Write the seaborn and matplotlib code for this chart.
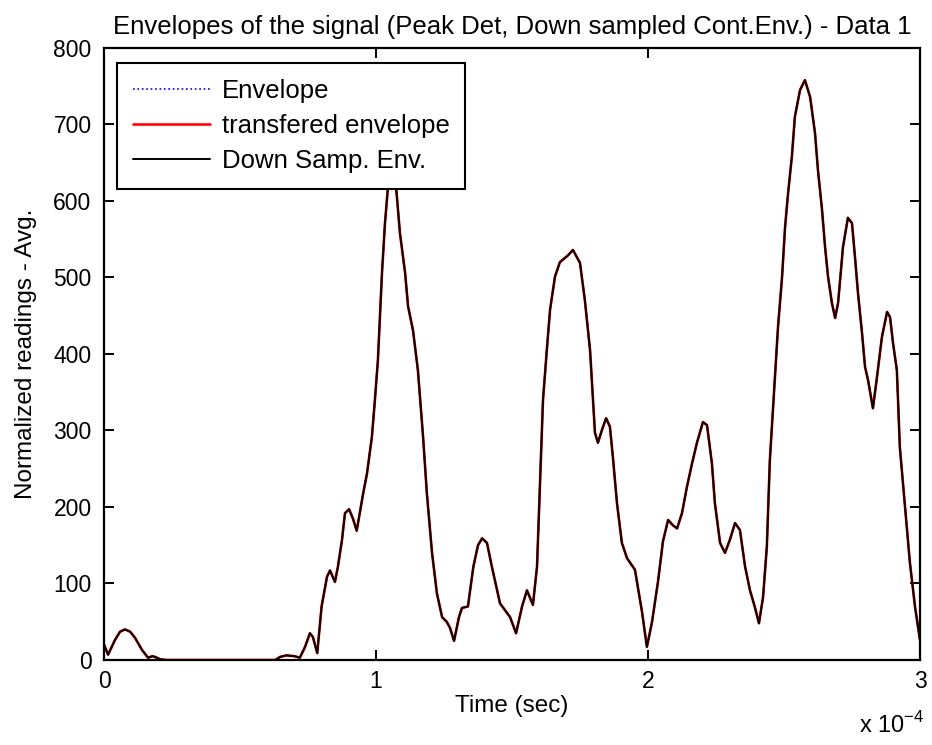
import numpy as np
import pandas as pd
import matplotlib
matplotlib.use("Agg")
import matplotlib.pyplot as plt
import seaborn as sns

# Time axis in units of 1e-4 s
time_e4 = [
    0.0, 0.015, 0.04, 0.059, 0.077, 0.096, 0.114, 0.14, 0.162, 0.178, 0.188, 0.206,
    0.23, 0.40, 0.63, 0.647, 0.67, 0.70, 0.72, 0.739, 0.757, 0.768, 0.784, 0.80,
    0.82, 0.831, 0.849, 0.86, 0.875, 0.886, 0.901, 0.915, 0.929, 0.953, 0.967,
    0.985, 0.996, 1.007, 1.022, 1.033, 1.044, 1.055, 1.066, 1.077, 1.088, 1.107,
    1.118, 1.136, 1.154, 1.173, 1.187, 1.206, 1.224, 1.243, 1.26, 1.272, 1.287,
    1.305, 1.316, 1.338, 1.358, 1.375, 1.39, 1.408, 1.426, 1.456, 1.493, 1.515,
    1.537, 1.555, 1.577, 1.592, 1.603, 1.614, 1.628, 1.64, 1.658, 1.676, 1.706,
    1.724, 1.75, 1.768, 1.787, 1.798, 1.805, 1.816, 1.831, 1.846, 1.86, 1.871,
    1.886, 1.904, 1.923, 1.952, 1.978, 1.996, 2.015, 2.037, 2.055, 2.074, 2.092,
    2.107, 2.125, 2.143, 2.162, 2.18, 2.202, 2.217, 2.235, 2.246, 2.265, 2.283,
    2.301, 2.32, 2.338, 2.357, 2.375, 2.393, 2.408, 2.423, 2.437, 2.448, 2.467,
    2.478, 2.493, 2.504, 2.515, 2.529, 2.54, 2.559, 2.577, 2.596, 2.614, 2.625,
    2.64, 2.651, 2.662, 2.676, 2.688, 2.699, 2.717, 2.735, 2.75, 2.761, 2.772,
    2.787, 2.798, 2.809, 2.827, 2.842, 2.86, 2.879, 2.89, 2.901, 2.915, 2.926,
    2.945, 2.963, 2.982, 2.993, 3.0,
]

# Normalized envelope readings (averaged)
envelope = [
    20, 7, 26, 37, 40, 37, 29, 13, 3, 5, 4, 1,
    0, 0, 0, 4, 6, 5, 3, 17, 35, 30, 9, 70,
    109, 117, 102, 122, 157, 192, 197, 185, 169, 218, 244,
    292, 340, 392, 506, 571, 618, 655, 650, 605, 558, 506,
    462, 431, 379, 292, 218, 140, 87, 56, 50, 42, 25,
    56, 68, 70, 122, 150, 159, 153, 122, 74, 56, 35,
    70, 91, 72, 122, 231, 340, 405, 458, 501, 520, 529,
    536, 519, 470, 405, 340, 297, 284, 301, 316, 305, 265,
    205, 153, 133, 118, 63, 17, 50, 103, 155, 183, 176,
    172, 192, 226, 257, 284, 311, 307, 257, 205, 153, 140,
    157, 179, 170, 122, 91, 69, 48, 82, 148, 261, 370,
    435, 501, 566, 610, 658, 710, 745, 758, 736, 689, 640,
    588, 540, 501, 467, 447, 467, 540, 578, 571, 527, 480,
    427, 383, 366, 329, 370, 422, 455, 448, 414, 379, 278,
    200, 127, 69, 43, 26,
]

# Transferred and down-sampled envelopes follow the continuous envelope
transferred = list(envelope)
down_sampled = list(envelope)

series_names = ["Envelope", "transfered envelope", "Down Samp. Env."]
x_ticks = [0, 1, 2, 3]
y_ticks = [0, 100, 200, 300, 400, 500, 600, 700, 800]

sns.set_style("ticks")
plt.rcParams["font.family"] = ["Liberation Sans", "DejaVu Sans"]
plt.rcParams["mathtext.fontset"] = "custom"
plt.rcParams["mathtext.rm"] = "Liberation Sans"
for key in ["text.color", "axes.labelcolor", "xtick.color", "ytick.color",
            "axes.edgecolor"]:
    plt.rcParams[key] = "black"

fig = plt.figure(figsize=(9.32, 7.45), dpi=100)
ax = fig.add_axes([0.1116, 0.1141, 0.8755, 0.8215])

sns.lineplot(x=time_e4, y=envelope, ax=ax, color="blue", linestyle=":",
             linewidth=1.2, label=series_names[0], estimator=None, sort=False)
sns.lineplot(x=time_e4, y=transferred, ax=ax, color="red", linestyle="-",
             linewidth=1.9, label=series_names[1], estimator=None, sort=False)
sns.lineplot(x=time_e4, y=down_sampled, ax=ax, color="black", linestyle="-",
             linewidth=1.4, label=series_names[2], estimator=None, sort=False)

ax.set_xlim(0, 3)
ax.set_ylim(0, 800)
ax.set_xticks(x_ticks)
ax.set_yticks(y_ticks)
ax.set_xticklabels([str(v) for v in x_ticks])
ax.set_yticklabels([str(v) for v in y_ticks])

ax.tick_params(axis="both", which="both", direction="in", length=7, width=1.4,
               top=True, right=True, labelsize=16.5, pad=9, colors="black")
ax.tick_params(axis="x", pad=7)
for sp in ax.spines.values():
    sp.set_visible(True)
    sp.set_linewidth(1.6)
    sp.set_color("black")

ax.set_xlabel("Time (sec)", fontsize=17.5, labelpad=2)
ax.set_ylabel("Normalized readings - Avg.", fontsize=17.5, labelpad=12)
ax.set_title("Envelopes of the signal (Peak Det, Down sampled Cont.Env.) - Data 1",
             fontsize=18.5, pad=10)
ax.text(1.005, -0.085, r"x 10$^{-4}$", transform=ax.transAxes, ha="right",
        va="top", fontsize=17)

leg = ax.legend(loc="upper left", bbox_to_anchor=(0.016, 0.975), borderaxespad=0,
                fontsize=18.5, frameon=True, fancybox=False, handlelength=3.0,
                handletextpad=0.45, labelspacing=0.42, borderpad=0.62)
leg.get_frame().set_edgecolor("black")
leg.get_frame().set_linewidth(1.5)
leg.get_frame().set_alpha(1)

fig.savefig("out.png", dpi=100)
